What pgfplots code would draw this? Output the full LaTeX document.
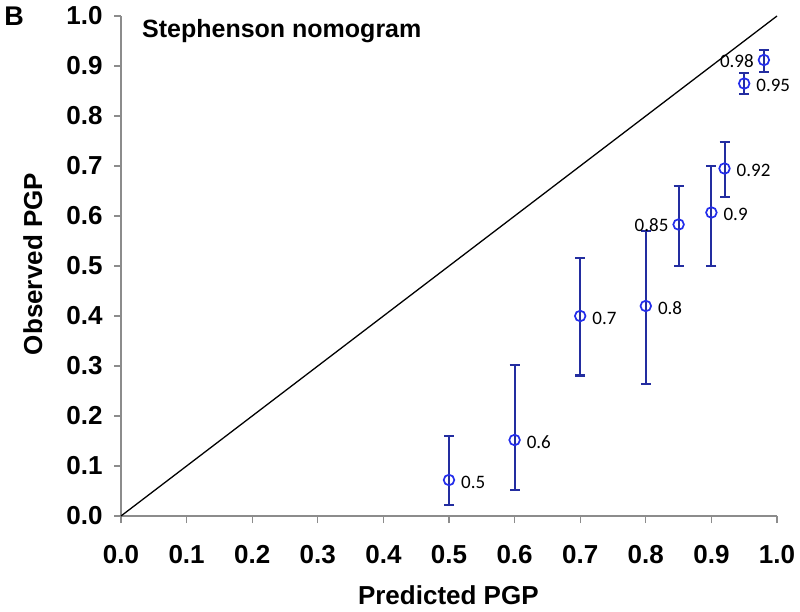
\documentclass[border=0pt]{standalone}
\usepackage{fontspec}
\setmainfont{Liberation Sans}
\newfontfamily\calibri{Carlito}
\usepackage{pgfplots}
\usepackage{pgfplotstable}
\pgfplotsset{compat=1.18}

\definecolor{markblue}{RGB}{35,45,235}
\definecolor{barblue}{RGB}{35,45,160}
\definecolor{axgray}{RGB}{140,140,140}

\pgfplotstableread{
x y ep em
0.50 0.072 0.087 0.050
0.60 0.152 0.150 0.100
0.70 0.400 0.116 0.119
0.80 0.420 0.149 0.156
0.85 0.583 0.076 0.084
0.90 0.607 0.093 0.108
0.92 0.695 0.052 0.058
0.95 0.865 0.020 0.022
0.98 0.912 0.020 0.025
}\caldata

\pgfplotstableread{
x y lab
0.50 0.072 0.5
0.60 0.152 0.6
0.70 0.400 0.7
0.80 0.420 0.8
0.90 0.607 0.9
0.92 0.695 0.92
0.95 0.865 0.95
}\rightlabels

\pgfplotstableread{
x y lab
0.85 0.583 0.85
0.98 0.912 0.98
}\leftlabels

\begin{document}
\begin{tikzpicture}
\begin{axis}[
  scale only axis, width=656bp, height=500bp,
  xmin=0, xmax=1, ymin=0, ymax=1,
  axis x line*=bottom, axis y line*=left,
  axis line style={axgray, line width=1.2pt},
  tick style={axgray, line width=1.2pt},
  tick align=outside, major tick length=7bp,
  xtick={0,0.1,0.2,0.3,0.4,0.5,0.6,0.7,0.8,0.9,1.0},
  ytick={0,0.1,0.2,0.3,0.4,0.5,0.6,0.7,0.8,0.9,1.0},
  /pgf/number format/.cd, fixed, fixed zerofill, precision=1, assume math mode=true,
  /pgfplots/.cd,
  ticklabel style={font=\fontsize{26bp}{30bp}\selectfont\bfseries},
  xticklabel style={anchor=north, yshift=-19bp},
  yticklabel style={anchor=east, xshift=-8bp},
  xlabel={Predicted PGP}, ylabel={Observed PGP},
  label style={font=\fontsize{26bp}{30bp}\selectfont\bfseries},
  xlabel style={at={(axis description cs:0.499,-0.178)}, anchor=base},
  ylabel style={at={(axis description cs:-0.1204,0.504)}, anchor=base, rotate=0},
  clip=false,
]
\addplot[black, line width=1.3pt] coordinates {(0,0) (1,1)};
\addplot[only marks, mark=o, mark size=5.3bp,
  mark options={markblue, line width=1.7bp},
  error bars/.cd, y dir=both, y explicit,
  error bar style={barblue, line width=2bp},
  error mark options={rotate=90, barblue, mark size=5bp, line width=2bp}]
  table[x=x, y=y, y error plus=ep, y error minus=em] {\caldata};
\addplot[draw=none, mark=none, nodes near coords, point meta=explicit symbolic,
  nodes near coords style={anchor=west, inner sep=0pt, xshift=12bp, yshift=-2bp, font=\calibri\fontsize{19bp}{21bp}\selectfont, text=black}]
  table[x=x, y=y, meta=lab] {\rightlabels};
\addplot[draw=none, mark=none, nodes near coords, point meta=explicit symbolic,
  nodes near coords style={anchor=east, inner sep=0pt, xshift=-10bp, yshift=-1bp, font=\calibri\fontsize{19bp}{21bp}\selectfont, text=black}]
  table[x=x, y=y, meta=lab] {\leftlabels};
\node[anchor=base west, inner sep=0pt, font=\fontsize{25bp}{29bp}\selectfont\bfseries]
  at (rel axis cs:0.032,0.956) {Stephenson nomogram};
\node[anchor=base west, inner sep=0pt, font=\fontsize{27bp}{30bp}\selectfont\bfseries]
  at (rel axis cs:-0.178,0.98) {B};
\end{axis}
\path (current axis.south west) ++(-121bp,-96bp) coordinate (bbA);
\path (current axis.north east) ++(23bp,16bp) coordinate (bbB);
\pgfresetboundingbox
\useasboundingbox (bbA) rectangle (bbB);
\end{tikzpicture}
\end{document}
